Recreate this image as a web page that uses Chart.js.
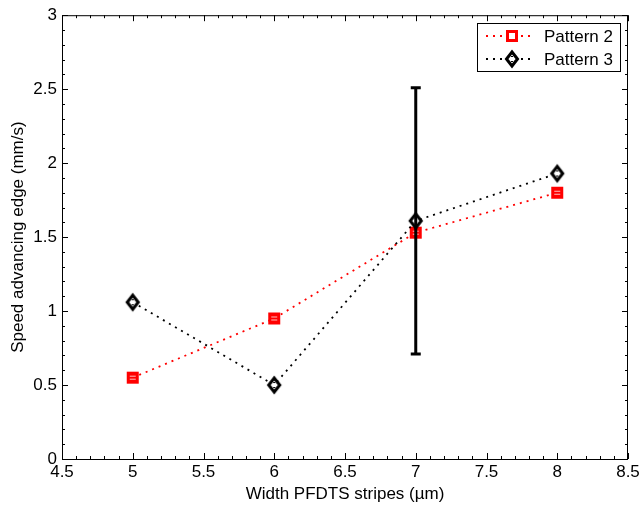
<!DOCTYPE html>
<html>
<head>
<meta charset="utf-8">
<script src="https://cdn.jsdelivr.net/npm/chart.js@4/dist/chart.umd.min.js"></script>
<style>
  html, body { margin: 0; padding: 0; background: #fff; }
</style>
</head>
<body>
<canvas id="chart" width="643" height="510"></canvas>
<script>
// stripe widths (um) and measured edge speeds (mm/s)
const widths = [5, 6, 7, 8];
const pattern2 = [0.55, 0.95, 1.53, 1.80];
const pattern3 = [1.06, 0.50, 1.61, 1.93];
const pattern3Err = [0, 0, 0.90, 0];

const xTicks = [4.5, 5, 5.5, 6, 6.5, 7, 7.5, 8, 8.5];
const yTicks = [0, 0.5, 1, 1.5, 2, 2.5, 3];
const seriesNames = ['Pattern 2', 'Pattern 3'];

const FONT = "'Liberation Sans', Arial, sans-serif";

// marker bitmaps used as point styles
function makeSquare(hollow) {
    const c = document.createElement('canvas');
    c.width = 14; c.height = 14;
    const g = c.getContext('2d');
    g.fillStyle = '#ff0000';
    g.fillRect(1, 1, 12, 12);
    if (hollow) {
        g.fillStyle = '#fff';
        g.fillRect(4, 4, 6, 6);
    } else {
        g.fillStyle = 'rgba(255,255,255,0.75)';
        g.fillRect(4, 5, 6, 1);
        g.fillRect(4, 8, 6, 1);
    }
    return c;
}

function makeDiamond() {
    const c = document.createElement('canvas');
    c.width = 20; c.height = 24;
    const g = c.getContext('2d');
    const cx = 10, cy = 12;
    g.beginPath();
    g.moveTo(cx, cy - 7);
    g.lineTo(cx + 5.5, cy);
    g.lineTo(cx, cy + 7);
    g.lineTo(cx - 5.5, cy);
    g.closePath();
    g.fillStyle = '#fff';
    g.fill();
    g.lineWidth = 3;
    g.strokeStyle = '#000';
    g.stroke();
    g.fillStyle = '#000';
    g.fillRect(cx - 1, cy - 3, 2, 1);
    g.fillRect(cx - 1, cy + 2, 2, 1);
    return c;
}

const squareMark = makeSquare(false);
const squareLegend = makeSquare(true);
const diamondMark = makeDiamond();

// box frame with inward major/minor ticks on all four sides
const framePlugin = {
    id: 'frame',
    afterDraw(chart) {
        const { ctx, chartArea: a, scales } = chart;
        const xs = scales.x, ys = scales.y;
        ctx.save();
        ctx.strokeStyle = '#000';
        ctx.lineWidth = 1;
        ctx.strokeRect(a.left + 0.5, a.top + 0.5, a.right - a.left - 1, a.bottom - a.top);
        ctx.beginPath();
        for (let i = 45; i <= 85; i++) {
            const px = Math.round(xs.getPixelForValue(i / 10)) + 0.5;
            const len = i % 5 === 0 ? 6 : 3;
            ctx.moveTo(px, a.bottom);
            ctx.lineTo(px, a.bottom - len);
            ctx.moveTo(px, a.top);
            ctx.lineTo(px, a.top + len);
        }
        for (let i = 0; i <= 30; i++) {
            const py = Math.round(ys.getPixelForValue(i / 10)) + 0.5;
            const len = i % 5 === 0 ? 6 : 3;
            ctx.moveTo(a.left, py);
            ctx.lineTo(a.left + len, py);
            ctx.moveTo(a.right, py);
            ctx.lineTo(a.right - len, py);
        }
        ctx.stroke();
        ctx.restore();
    }
};

// vertical error bars with caps for Pattern 3
const errorBarPlugin = {
    id: 'errorBars',
    afterDatasetsDraw(chart) {
        const { ctx, scales } = chart;
        ctx.save();
        ctx.strokeStyle = '#000';
        ctx.lineWidth = 3;
        pattern3Err.forEach((e, i) => {
            if (!e) return;
            const x = scales.x.getPixelForValue(widths[i]);
            const yHi = scales.y.getPixelForValue(pattern3[i] + e);
            const yLo = scales.y.getPixelForValue(pattern3[i] - e);
            ctx.beginPath();
            ctx.moveTo(x, yHi);
            ctx.lineTo(x, yLo);
            ctx.moveTo(x - 5, yHi);
            ctx.lineTo(x + 5, yHi);
            ctx.moveTo(x - 5, yLo);
            ctx.lineTo(x + 5, yLo);
            ctx.stroke();
        });
        ctx.restore();
    }
};

// boxed legend in the upper right corner
const legendPlugin = {
    id: 'boxLegend',
    afterDraw(chart) {
        const { ctx } = chart;
        const box = { x: 477, y: 23, w: 143, h: 48 };
        ctx.save();
        ctx.fillStyle = '#fff';
        ctx.fillRect(box.x, box.y, box.w, box.h);
        ctx.strokeStyle = '#000';
        ctx.lineWidth = 1;
        ctx.strokeRect(box.x + 0.5, box.y + 0.5, box.w, box.h);
        const rows = [
            { color: '#ff0000', mark: squareLegend, y: 36 },
            { color: '#000000', mark: diamondMark, y: 59 }
        ];
        rows.forEach((r, i) => {
            ctx.strokeStyle = r.color;
            ctx.lineWidth = 1.8;
            ctx.setLineDash([2, 5]);
            ctx.beginPath();
            ctx.moveTo(486, r.y);
            ctx.lineTo(533, r.y);
            ctx.stroke();
            ctx.setLineDash([]);
            ctx.drawImage(r.mark, 512 - r.mark.width / 2, r.y - r.mark.height / 2);
            ctx.fillStyle = '#000';
            ctx.font = '17px ' + FONT;
            ctx.textBaseline = 'middle';
            ctx.textAlign = 'left';
            ctx.fillText(seriesNames[i], 544, r.y + 1);
        });
        ctx.restore();
    }
};

const lineStyle = {
    showLine: true,
    borderWidth: 1.8,
    borderDash: [2, 5],
    pointRadius: 7,
    tension: 0
};

new Chart(document.getElementById('chart'), {
    type: 'scatter',
    data: {
        datasets: [
            {
                ...lineStyle,
                label: seriesNames[0],
                data: widths.map((w, i) => ({ x: w, y: pattern2[i] })),
                borderColor: '#ff0000',
                backgroundColor: '#ff0000',
                pointStyle: squareMark,
                order: 1
            },
            {
                ...lineStyle,
                label: seriesNames[1],
                data: widths.map((w, i) => ({ x: w, y: pattern3[i] })),
                borderColor: '#000000',
                backgroundColor: '#000000',
                pointStyle: diamondMark,
                order: 0
            }
        ]
    },
    options: {
        responsive: false,
        animation: false,
        devicePixelRatio: 1,
        layout: { padding: { left: 0, top: 13, right: 15, bottom: 0 } },
        plugins: {
            legend: { display: false },
            tooltip: { enabled: false }
        },
        scales: {
            x: {
                type: 'linear',
                min: 4.5,
                max: 8.5,
                afterBuildTicks: s => { s.ticks = xTicks.map(v => ({ value: v })); },
                afterFit: s => { s.height = 51; },
                grid: { display: false, drawTicks: false },
                border: { display: false },
                ticks: {
                    autoSkip: false,
                    maxRotation: 0,
                    padding: 3,
                    color: '#000',
                    font: { family: FONT, size: 17 },
                    callback: v => String(v)
                },
                title: {
                    display: true,
                    text: 'Width PFDTS stripes (\u00b5m)',
                    color: '#000',
                    font: { family: FONT, size: 17 },
                    padding: { top: 0, bottom: 5 }
                }
            },
            y: {
                type: 'linear',
                min: 0,
                max: 3,
                afterBuildTicks: s => { s.ticks = yTicks.map(v => ({ value: v })); },
                afterFit: s => { s.width = 62; },
                grid: { display: false, drawTicks: false },
                border: { display: false },
                ticks: {
                    autoSkip: false,
                    padding: 5,
                    color: '#000',
                    font: { family: FONT, size: 17 },
                    callback: v => String(v)
                },
                title: {
                    display: true,
                    text: 'Speed advancing edge (mm/s)',
                    color: '#000',
                    font: { family: FONT, size: 17 },
                    padding: { top: 8, bottom: 0 }
                }
            }
        }
    },
    plugins: [framePlugin, errorBarPlugin, legendPlugin]
});
</script>
</body>
</html>
